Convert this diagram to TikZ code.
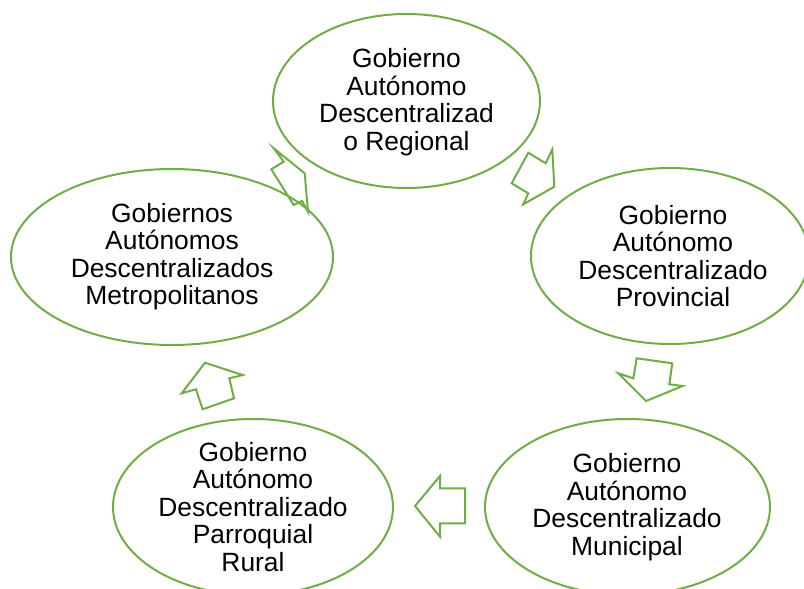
\documentclass[tikz,border=0pt]{standalone}
\usepackage{fontspec}
\setmainfont{Liberation Sans}
\usetikzlibrary{shapes.geometric}
\definecolor{gr}{RGB}{112,173,71}
\begin{document}
\begin{tikzpicture}[x=1pt,y=-1pt,
  oval/.style={ellipse, draw=gr, line width=2pt, inner sep=0pt},
  txt/.style={align=center, inner sep=0pt, font=\fontsize{26.4}{27.5}\selectfont},
  blk/.style={draw=gr, line width=2pt, fill=white, line join=miter}]
\clip (0,0) rectangle (804,589);
% block arrows
\draw[blk] (528.3,152.7) -- (545.7,163.3) -- (552.3,149.3) -- (554.3,186.7) -- (523.3,204.3) -- (528.3,193.3) -- (511.7,183.3) -- cycle;
\draw[blk] (636.7,358.3) -- (672.3,363.3) -- (669.3,384.3) -- (682.7,386) -- (646,401) -- (618.3,373.3) -- (633.3,378.3) -- cycle;
\draw[blk] (465,488.3) -- (440,488.3) -- (440,476) -- (415,506) -- (440,536.7) -- (440,523.3) -- (465,523.3) -- cycle;
\draw[blk] (202.7,409.3) -- (196,389.3) -- (181.7,393.3) -- (205,362.7) -- (242.7,375) -- (229.3,378.3) -- (234,398.3) -- cycle;
\draw[blk] (273.7,148.3) -- (283.7,161.7) -- (271.3,169.3) -- (293.7,205) -- (302,201) -- (308,211.7) -- (304.7,173.3) -- cycle;
% ellipses
\node[oval, minimum width=267pt, minimum height=174pt] (reg) at (406.5,101) {};
\node[oval, minimum width=278pt, minimum height=176pt] (prov) at (670,256) {};
\node[oval, minimum width=285pt, minimum height=176pt] (mun) at (627.5,507) {};
\node[oval, minimum width=280pt, minimum height=176pt] (rur) at (253,507) {};
\node[oval, minimum width=322pt, minimum height=176pt] (met) at (172,257) {};
% texts
\node[txt] (treg) at (406.5,102) {Gobierno\\Autónomo\\Descentralizad\\o Regional};
\node[txt] (tprov) at (673,256) {Gobierno\\Autónomo\\Descentralizado\\Provincial};
\node[txt] (tmun) at (627,507) {Gobierno\\Autónomo\\Descentralizado\\Municipal};
\node[txt] (trur) at (253,507) {Gobierno\\Autónomo\\Descentralizado\\Parroquial\\Rural};
\node[txt] (tmet) at (172,256.5) {Gobiernos\\Autónomos\\Descentralizados\\Metropolitanos};
\end{tikzpicture}
\end{document}
